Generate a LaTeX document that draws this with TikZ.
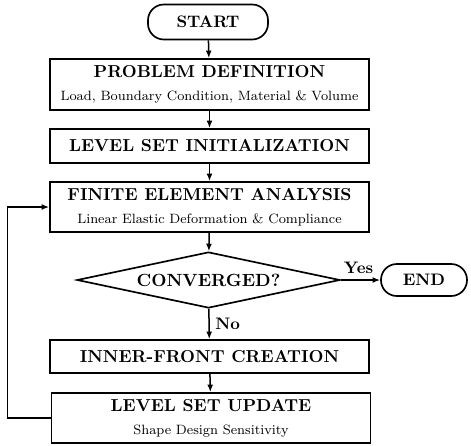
\documentclass[tikz,border=0pt]{standalone}
\usepackage{tikz}
\usetikzlibrary{arrows.meta, positioning, shapes.geometric}

\newcommand{\subline}{\fontsize{8.1}{10}\selectfont}
\newcommand{\titleline}{\fontsize{10.4}{12}\selectfont\bfseries}

\tikzset{
  stepbox/.style={draw, line width=1pt, rectangle, minimum width=191.4pt, align=center, inner sep=0pt},
  termbox/.style={draw, line width=1pt, rectangle, rounded corners=9.5pt, inner sep=0pt, font=\bfseries},
  decbox/.style={draw, line width=1pt, diamond, aspect=4.6, inner sep=0pt, font=\fontsize{10.6}{13}\selectfont\bfseries},
  flow/.style={line width=0.9pt, -{Latex[length=4.5pt, width=3.5pt]}},
}

\begin{document}
\begin{tikzpicture}[x=0.6pt, y=-0.6pt]
  \useasboundingbox (0,0) rectangle (471,445);

  % Start
  \node[termbox, minimum width=72pt, minimum height=21pt] (start) at (208,22) {START};

  % Box 1
  \node[stepbox, minimum height=30.6pt] (probdef) at (209.5,84.5)
       {{\titleline PROBLEM DEFINITION}\\[2pt] {\subline Load, Boundary Condition, Material \& Volume}};

  % Box 2
  \node[stepbox, minimum height=20.4pt, font=\titleline] (lsinit) at (209.5,146) {LEVEL SET INITIALIZATION};

  % Box 3
  \node[stepbox, minimum height=30pt] (fea) at (209.5,207)
       {{\titleline FINITE ELEMENT ANALYSIS}\\[2pt] {\subline Linear Elastic Deformation \& Compliance}};

  % Decision
  \node[decbox, minimum width=157.8pt, minimum height=33.6pt] (conv) at (208.5,280) {CONVERGED?};
  \node[termbox, minimum width=51.6pt, minimum height=19.2pt] (end) at (424,280) {END};

  % Box 4
  \node[stepbox, minimum height=19.8pt, font=\titleline] (inner) at (209.5,356.5) {INNER-FRONT CREATION};

  % Box 5
  \node[stepbox, minimum height=30pt] (lsupd) at (211,418)
       {{\titleline LEVEL SET UPDATE}\\[2pt] {\subline Shape Design Sensitivity}};

  % Connectors
  \draw[flow] (start) -- (probdef);
  \draw[flow] (probdef) -- (lsinit);
  \draw[flow] (lsinit) -- (fea);
  \draw[flow] (fea) -- (conv);
  \draw[flow] (conv) -- node[above, font=\bfseries, pos=0.45] {Yes} (end);
  \draw[flow] (conv) -- node[right, font=\bfseries] {No} (inner);
  \draw[flow] (inner) -- (lsupd);
  \draw[flow] (lsupd.west) -- ++(-43,0) |- (fea.west);
\end{tikzpicture}
\end{document}
